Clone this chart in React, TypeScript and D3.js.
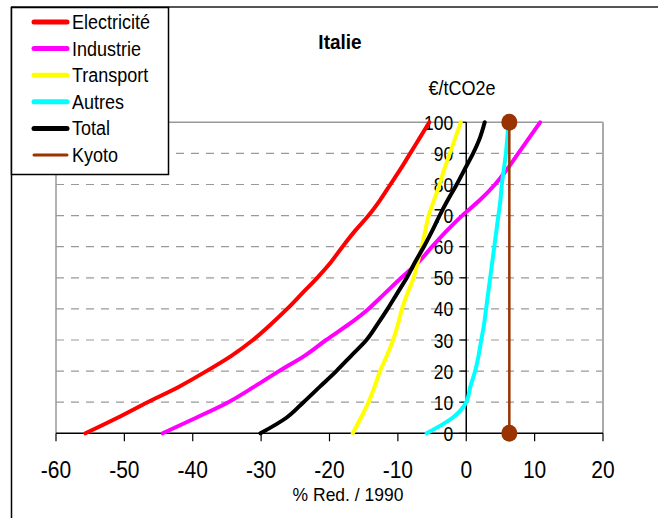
import React from "react";
import * as d3 from "d3";

const levels = [0, 5, 10, 15, 20, 25, 30, 35, 40, 45, 50, 55, 60, 65, 70, 75, 80, 85, 90, 95, 100];
const electricite = [-55.7, -51, -46.6, -42, -38, -34.3, -31.2, -28.6, -26.2, -24, -21.8, -19.8, -18.1, -16.3, -14.3, -12.6, -11.1, -9.6, -8.2, -6.8, -5.4];
const industrie = [-44.4, -39.5, -34.8, -31.0, -27.4, -23.6, -20.5, -17.2, -14.3, -11.9, -9.5, -7.0, -5.0, -2.9, -0.6, 2.0, 4.2, 6.0, 7.6, 9.2, 10.8];
const transport = [-16.6, -15.4, -14.3, -13.4, -12.6, -11.6, -10.7, -10.0, -9.4, -8.6, -7.7, -7.1, -6.5, -6.0, -5.5, -4.7, -3.9, -3.2, -2.4, -1.6, -0.8];
const autres = [-5.8, -2.0, 0.0, 0.6, 1.3, 1.8, 2.2, 2.6, 2.9, 3.2, 3.5, 3.8, 4.1, 4.4, 4.7, 5.0, 5.2, 5.5, 5.8, 6.0, 6.2];
const total = [-30.1, -26.3, -23.8, -21.4, -19.0, -16.8, -14.6, -13.0, -11.5, -10.1, -8.7, -7.5, -6.2, -5.0, -3.9, -2.7, -1.4, -0.2, 1.0, 2.0, 2.7];
const kyotoX = [6.3, 6.3];
const kyotoY = [0, 100];

const seriesNames = ["Electricité", "Industrie", "Transport", "Autres", "Total", "Kyoto"];
const seriesColors = ["#ff0000", "#ff00ff", "#ffff00", "#00ffff", "#000000", "#993300"];
const xTicks = [-60, -50, -40, -30, -20, -10, 0, 10, 20];
const yTicks = [0, 10, 20, 30, 40, 50, 60, 70, 80, 90, 100];

function T({ x, y, size, sy = 1.15, anchor = "start", weight = "normal", children }: any) {
  return (
    <g transform={`translate(${x},${y}) scale(1,${sy})`}>
      <text x={0} y={0} textAnchor={anchor} fontSize={size} fontWeight={weight}>{children}</text>
    </g>
  );
}

export default function App() {
  const W = 658, H = 518;
  const x = d3.scaleLinear().domain([-60, 20]).range([56, 603]);
  const y = d3.scaleLinear().domain([0, 100]).range([433.3, 122.3]);
  const line = d3.line<[number, number]>().x(d => x(d[0])).y(d => y(d[1])).curve(d3.curveMonotoneY);
  const curves = [electricite, industrie, transport, autres, total];
  const font = "Liberation Sans, Arial, sans-serif";
  return (
    <svg width={W} height={H} style={{ position: "absolute", left: 0, top: 0 }} fontFamily={font}>
      <rect x={0} y={0} width={W} height={H} fill="#fff" />
      {/* outer frame */}
      <line x1={11.5} y1={7} x2={11.5} y2={H} stroke="#000" strokeWidth={1.5} />
      <line x1={11} y1={7} x2={W} y2={7} stroke="#555" strokeWidth={2} />
      {/* plot area */}
      {yTicks.slice(1, -1).map(t => (
        <line key={"g" + t} x1={x(-60)} x2={x(20)} y1={y(t)} y2={y(t)} stroke="#999" strokeWidth={1.2} strokeDasharray="8,7" />
      ))}
      <line x1={x(-60)} x2={x(20)} y1={y(100)} y2={y(100)} stroke="#999" strokeWidth={1.5} />
      <line x1={x(-60)} x2={x(-60)} y1={y(100)} y2={y(0)} stroke="#999" strokeWidth={1.5} />
      <line x1={x(20)} x2={x(20)} y1={y(100)} y2={y(0)} stroke="#aaa" strokeWidth={2} />
      {/* x axis */}
      <line x1={x(-60)} x2={x(20)} y1={y(0)} y2={y(0)} stroke="#000" strokeWidth={1.5} />
      {xTicks.map(t => (
        <g key={"xt" + t}>
          <line x1={x(t)} x2={x(t)} y1={y(0)} y2={y(0) + 8} stroke="#000" strokeWidth={1.2} />
          <T x={x(t)} y={y(0) + 45} size={21} anchor="middle">{t}</T>
        </g>
      ))}
      {/* y axis at 0 */}
      <line x1={x(0)} x2={x(0)} y1={y(0)} y2={y(100)} stroke="#000" strokeWidth={1.5} />
      {yTicks.map(t => (
        <g key={"yt" + t}>
          <line x1={x(0) - 7} x2={x(0)} y1={y(t)} y2={y(t)} stroke="#000" strokeWidth={1.2} />
          <T x={x(0) - 13} y={y(t) + 7.5} size={17.5} sy={1.2} anchor="end">{t}</T>
        </g>
      ))}
      {/* curves */}
      {curves.map((vals, i) => (
        <path key={"c" + i} d={line(vals.map((v, j) => [v, levels[j]]) as [number, number][]) || ""} fill="none" stroke={seriesColors[i]} strokeWidth={4} strokeLinejoin="round" strokeLinecap="round" />
      ))}
      {/* kyoto */}
      <path d={line(kyotoX.map((v, j) => [v, kyotoY[j]]) as [number, number][]) || ""} stroke={seriesColors[5]} strokeWidth={2.5} fill="none" />
      {kyotoX.map((v, j) => (
        <ellipse key={"k" + j} cx={x(v)} cy={y(kyotoY[j])} rx={8} ry={8.5} fill={seriesColors[5]} />
      ))}
      {/* titles */}
      <T x={340} y={49} size={19} sy={1.1} anchor="middle" weight="bold">Italie</T>
      <T x={462} y={95} size={18} sy={1.12} anchor="middle">€/tCO2e</T>
      <T x={348} y={501} size={17.5} sy={1.1} anchor="middle">% Red. / 1990</T>
      {/* legend */}
      <rect x={11.5} y={7.5} width={157} height={167} fill="#fff" stroke="#000" strokeWidth={1.5} />
      {seriesNames.map((n, i) => {
        const ly = 22 + i * 26.6;
        return (
          <g key={"l" + i}>
            <line x1={34} x2={67} y1={ly} y2={ly} stroke={seriesColors[i]} strokeWidth={i === 5 ? 3 : 5} strokeLinecap="round" />
            <T x={72} y={ly + 7} size={18} sy={1.12}>{n}</T>
          </g>
        );
      })}
    </svg>
  );
}
